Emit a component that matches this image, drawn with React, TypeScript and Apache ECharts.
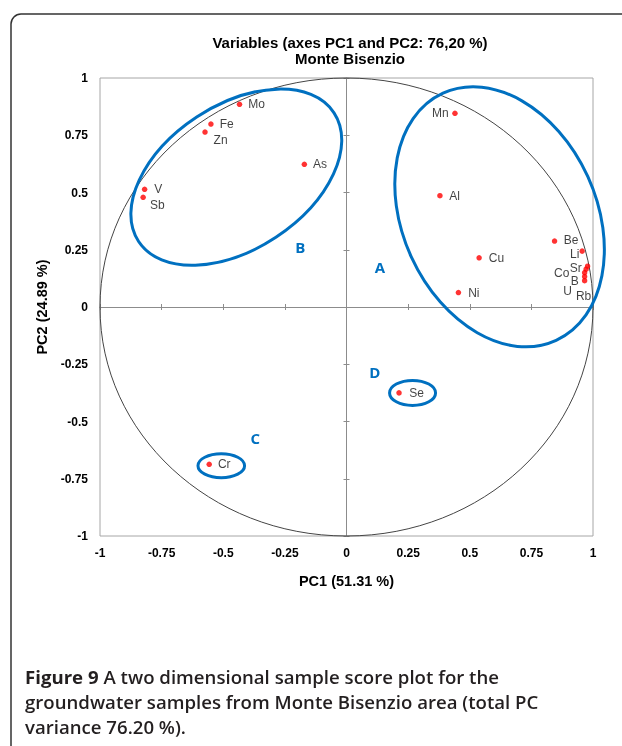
import React, { useEffect, useRef } from 'react';
import * as echarts from 'echarts';

// ---- data (PC1 / PC2 loadings) ----
const names = ['Mo', 'Fe', 'Zn', 'As', 'V', 'Sb', 'Mn', 'Al', 'Cu', 'Ni', 'Be', 'Li', 'Sr', 'Co', 'B', 'U', 'Rb', 'Se', 'Cr'];
const pc1 = [-0.434, -0.55, -0.574, -0.171, -0.819, -0.825, 0.44, 0.379, 0.538, 0.454, 0.844, 0.956, 0.978, 0.972, 0.966, 0.966, 0.966, 0.213, -0.557];
const pc2 = [0.885, 0.799, 0.764, 0.623, 0.514, 0.479, 0.846, 0.486, 0.215, 0.063, 0.288, 0.244, 0.178, 0.165, 0.15, 0.133, 0.115, -0.375, -0.687];

const axisTicks = [-1, -0.75, -0.5, -0.25, 0, 0.25, 0.5, 0.75, 1];

// group letters (annotation positions in PC units)
const letters = ['A', 'B', 'C', 'D'];
const letterPc1 = [0.136, -0.188, -0.37, 0.115];
const letterPc2 = [0.174, 0.264, -0.573, -0.285];

// group outline centres (PC units)
const outlineIds = ['A', 'B', 'Se', 'Cr'];
const outlinePc1 = [0.621, -0.447, 0.268, -0.508];
const outlinePc2 = [0.394, 0.567, -0.375, -0.693];

// ---- styles ----
const BLUE = '#0070C0';
const FONT = '"Liberation Sans", Arial, sans-serif';
const outlineStyle: Record<string, { rx: number; ry: number; rot: number }> = {
  A: { rx: 97, ry: 136, rot: 24.6 },
  B: { rx: 117, ry: 72, rot: 33.4 },
  Se: { rx: 23, ry: 12.5, rot: 0 },
  Cr: { rx: 23.3, ry: 12, rot: 0 },
};
const labelPlace: Record<string, any> = {
  Mo: { position: 'right', distance: 6 },
  Fe: { position: 'right', distance: 6 },
  Zn: { position: 'right', distance: 5.8, offset: [0, 8] },
  As: { position: 'right', distance: 6 },
  V: { position: 'right', distance: 7 },
  Sb: { position: 'right', distance: 4, offset: [0, 8] },
  Mn: { position: 'left', distance: 3.5 },
  Al: { position: 'right', distance: 6.5 },
  Cu: { position: 'right', distance: 7 },
  Ni: { position: 'right', distance: 7 },
  Be: { position: 'right', distance: 6.5, offset: [0, -1] },
  Li: { position: 'left', distance: 0, offset: [0, 3] },
  Sr: { position: 'left', distance: 3, offset: [0, 1.5] },
  Co: { position: 'left', distance: 14, offset: [0, 4] },
  B: { position: 'left', distance: 3, offset: [0, 8] },
  U: { position: 'left', distance: 10, offset: [0, 14] },
  Rb: { position: 'bottom', distance: 6.5, offset: [-1, 0] },
  Se: { position: 'right', distance: 7.5 },
  Cr: { position: 'right', distance: 6 },
};

const tickMin = axisTicks[0];
const tickMax = axisTicks[axisTicks.length - 1];
const tickStep = axisTicks[1] - axisTicks[0];

export default function App() {
  const ref = useRef<HTMLDivElement>(null);

  useEffect(() => {
    if (!ref.current) return;
    const chart = echarts.init(ref.current, null, { renderer: 'svg' });

    const points = names.map((n, i) => ({
      name: n,
      value: [pc1[i], pc2[i]],
      label: { show: true, ...labelPlace[n] },
    }));

    const labelStyle = { fontFamily: FONT, fontWeight: 'bold' as const, fontSize: 12, color: '#000' };
    const zeroLine = { color: '#8c8c8c', width: 1 };

    const baseX = { type: 'value' as const, min: tickMin, max: tickMax, interval: tickStep, splitLine: { show: false } };
    const baseY = { type: 'value' as const, min: tickMin, max: tickMax, interval: tickStep, splitLine: { show: false } };

    chart.setOption({
      animation: false,
      title: {
        text: 'Variables (axes PC1 and PC2: 76,20 %)\nMonte Bisenzio',
        left: 345,
        top: 29,
        textAlign: 'center',
        textStyle: { fontFamily: FONT, fontWeight: 'bold', fontSize: 15, lineHeight: 16, color: '#000' },
      },
      grid: { left: 100, right: 29, top: 78, bottom: 210, show: true, borderColor: '#a6a6a6', borderWidth: 1, containLabel: false },
      xAxis: [
        {
          ...baseX,
          position: 'bottom',
          axisLine: { show: false, onZero: false },
          axisTick: { show: false },
          axisLabel: { ...labelStyle, margin: 11 },
          name: 'PC1 (51.31 %)',
          nameLocation: 'middle',
          nameGap: 37,
          nameTextStyle: { fontFamily: FONT, fontWeight: 'bold', fontSize: 14.5, color: '#000' },
        },
        {
          ...baseX,
          axisLine: { show: true, onZero: true, lineStyle: zeroLine },
          axisTick: { show: true, length: 3, lineStyle: zeroLine },
          axisLabel: { show: false },
        },
        {
          ...baseX,
          axisLine: { show: false, onZero: true },
          axisTick: { show: true, inside: true, length: 3, lineStyle: zeroLine },
          axisLabel: { show: false },
        },
      ],
      yAxis: [
        {
          ...baseY,
          position: 'left',
          axisLine: { show: false, onZero: false },
          axisTick: { show: false },
          axisLabel: { ...labelStyle, margin: 12 },
          name: 'PC2 (24.89 %)',
          nameLocation: 'middle',
          nameGap: 50,
          nameTextStyle: { fontFamily: FONT, fontWeight: 'bold', fontSize: 14.5, color: '#000' },
        },
        {
          ...baseY,
          axisLine: { show: true, onZero: true, lineStyle: zeroLine },
          axisTick: { show: true, length: 3, lineStyle: zeroLine },
          axisLabel: { show: false },
        },
        {
          ...baseY,
          axisLine: { show: false, onZero: true },
          axisTick: { show: true, inside: true, length: 3, lineStyle: zeroLine },
          axisLabel: { show: false },
        },
      ],
      series: [
        {
          type: 'scatter',
          xAxisIndex: 0,
          yAxisIndex: 0,
          symbol: 'circle',
          symbolSize: 5.5,
          itemStyle: { color: '#ff0000' },
          label: { show: true, formatter: '{b}', fontFamily: FONT, fontSize: 12, lineHeight: 12, color: '#111' },
          data: points,
          z: 5,
        },
      ],
    });

    const px = (x: number, y: number) => chart.convertToPixel({ seriesIndex: 0 }, [x, y]) as number[];
    const c0 = px(0, 0);
    const c1 = px(1, 1);
    const graphics: any[] = [
      {
        type: 'rect',
        silent: true,
        shape: { x: 11, y: 14, width: 700, height: 800, r: 10 },
        style: { fill: 'none', stroke: '#333', lineWidth: 1.5 },
      },
      {
        type: 'ellipse',
        silent: true,
        z: 1,
        shape: { cx: c0[0], cy: c0[1], rx: c1[0] - c0[0], ry: c0[1] - c1[1] },
        style: { fill: 'none', stroke: '#444', lineWidth: 1 },
      },
    ];
    outlineIds.forEach((id, i) => {
      const p = px(outlinePc1[i], outlinePc2[i]);
      const s = outlineStyle[id];
      graphics.push({
        type: 'ellipse',
        silent: true,
        z: 10,
        x: p[0],
        y: p[1],
        rotation: (s.rot * Math.PI) / 180,
        shape: { cx: 0, cy: 0, rx: s.rx, ry: s.ry },
        style: { fill: 'none', stroke: BLUE, lineWidth: 3 },
      });
    });
    letters.forEach((t, i) => {
      const p = px(letterPc1[i], letterPc2[i]);
      graphics.push({
        type: 'text',
        silent: true,
        z: 10,
        x: p[0],
        y: p[1],
        style: {
          text: t,
          align: 'center',
          verticalAlign: 'middle',
          fill: BLUE,
          fontFamily: '"Open Sans", sans-serif',
          fontWeight: 'bold',
          fontSize: 15,
        },
      });
    });
    graphics.push({
      type: 'text',
      silent: true,
      x: 25,
      y: 664,
      scaleX: 1.035,
      style: {
        text: '{b|Figure 9} A two dimensional sample score plot for the\ngroundwater samples from Monte Bisenzio area (total PC\nvariance 76.20 %).',
        rich: {
          b: { fontFamily: '"Open Sans", sans-serif', fontWeight: 'bold', fontSize: 18, fill: '#231f20', lineHeight: 25 },
        },
        fontFamily: '"Open Sans", sans-serif',
        fontWeight: 600,
        fontSize: 18,
        lineHeight: 25,
        fill: '#231f20',
        align: 'left',
        verticalAlign: 'top',
      },
    });
    chart.setOption({ graphic: graphics });

    return () => chart.dispose();
  }, []);

  return <div ref={ref} style={{ position: 'fixed', left: 0, top: 0, width: 622, height: 746 }} />;
}
